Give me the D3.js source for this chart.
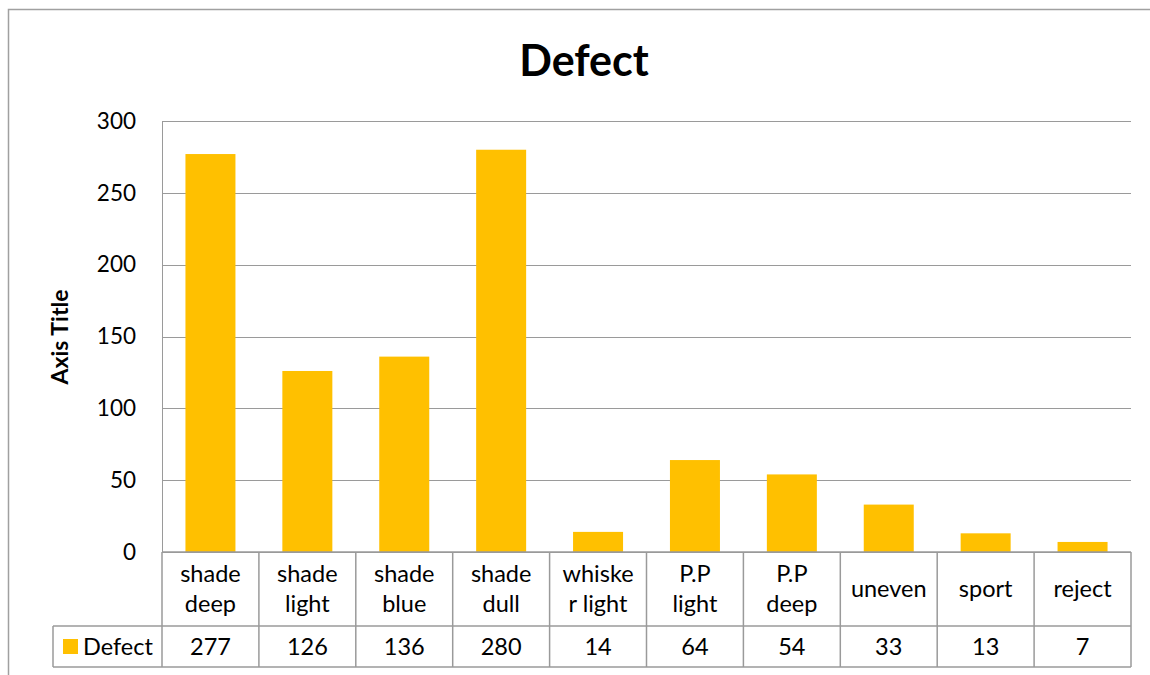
<!DOCTYPE html>
<html><head><meta charset="utf-8">
<script src="https://cdn.jsdelivr.net/npm/d3@7"></script>
<style>body{margin:0;background:#fff;font-family:Lato,"Open Sans",sans-serif;}</style>
</head><body>
<svg id="c" width="1150" height="675"></svg>
<script>
const title = "Defect";
const seriesName = "Defect";
const yAxisTitle = "Axis Title";
const categories = ["shade deep","shade light","shade blue","shade dull","whisker light","P.P light","P.P deep","uneven","sport","reject"];
const categoryLines = [["shade","deep"],["shade","light"],["shade","blue"],["shade","dull"],["whiske","r light"],["P.P","light"],["P.P","deep"],["uneven"],["sport"],["reject"]];
const values = [277,126,136,280,14,64,54,33,13,7];
const yTicks = [0,50,100,150,200,250,300];

const svg = d3.select("#c");
const L = 162, R = 1131, T = 121, B = 552;
const gridColor = "#9a9a9a", barColor = "#FFC000";
const fnt = "Lato,'Open Sans',sans-serif";

// outer border
svg.append("rect").attr("x",8.5).attr("y",9.5).attr("width",1160).attr("height",700)
  .attr("fill","none").attr("stroke","#a0a0a0").attr("stroke-width",1.5);

const x = d3.scaleBand().domain(categories).range([L,R]).paddingInner(0).paddingOuter(0);
const y = d3.scaleLinear().domain([0,300]).range([B,T]);

// gridlines
svg.append("g").selectAll("line").data(yTicks).join("line")
  .attr("x1",L).attr("x2",R).attr("y1",d=>Math.round(y(d))+0.5).attr("y2",d=>Math.round(y(d))+0.5)
  .attr("stroke",gridColor).attr("stroke-width",1);
svg.append("line").attr("x1",L+0.5).attr("x2",L+0.5).attr("y1",T).attr("y2",B).attr("stroke",gridColor);

// y axis labels
const yAxis = d3.axisLeft(y).tickValues(yTicks).tickSize(0).tickPadding(26);
const ga = svg.append("g").attr("transform",`translate(${L},0)`).call(yAxis);
ga.select(".domain").remove();
ga.selectAll("text").attr("font-family",fnt).attr("font-size",22.5).attr("fill","#000");

// bars
const bw = 50;
svg.append("g").selectAll("rect").data(values).join("rect")
  .attr("x",(d,i)=>x(categories[i])+x.bandwidth()/2-bw/2)
  .attr("width",bw)
  .attr("y",d=>y(d)).attr("height",d=>B-y(d))
  .attr("fill",barColor);

// data table
const rowTop = B, rowMid = 626, rowBot = 667, legL = 53;
const tb = svg.append("g").attr("stroke",gridColor).attr("stroke-width",1.5).attr("fill","none");
tb.append("line").attr("x1",L).attr("x2",R).attr("y1",rowTop).attr("y2",rowTop);
tb.append("line").attr("x1",legL).attr("x2",R).attr("y1",rowMid).attr("y2",rowMid);
tb.append("line").attr("x1",legL).attr("x2",R).attr("y1",rowBot).attr("y2",rowBot);
tb.append("line").attr("x1",legL).attr("x2",legL).attr("y1",rowMid).attr("y2",rowBot);
const bounds = categories.map(c=>x(c)).concat([R]);
tb.selectAll(".v").data(bounds).join("line").attr("class","v")
  .attr("x1",d=>d).attr("x2",d=>d).attr("y1",rowTop).attr("y2",rowBot);

const fs = 23.5;
categoryLines.forEach((lines,i)=>{
  const cx = x(categories[i])+x.bandwidth()/2;
  const t = svg.append("text").attr("x",cx).attr("text-anchor","middle")
    .attr("font-family",fnt).attr("font-size",fs).attr("fill","#000");
  if(lines.length===1){
    t.append("tspan").attr("x",cx).attr("y",597).text(lines[0]);
  } else {
    t.append("tspan").attr("x",cx).attr("y",582).text(lines[0]);
    t.append("tspan").attr("x",cx).attr("y",612).text(lines[1]);
  }
});
values.forEach((v,i)=>{
  svg.append("text").attr("x",x(categories[i])+x.bandwidth()/2).attr("y",655)
    .attr("text-anchor","middle").attr("font-family",fnt).attr("font-size",fs).attr("fill","#000").text(v);
});
// legend key
svg.append("rect").attr("x",63).attr("y",639).attr("width",15).attr("height",15).attr("fill",barColor);
svg.append("text").attr("x",83).attr("y",655).attr("font-family",fnt).attr("font-size",fs).attr("fill","#000").text(seriesName);

// title
svg.append("text").attr("x",584).attr("y",76).attr("text-anchor","middle")
  .attr("font-family",fnt).attr("font-weight","bold").attr("font-size",43).attr("fill","#000").text(title);
// y axis title
svg.append("text").attr("transform","translate(68,337) rotate(-90)").attr("text-anchor","middle")
  .attr("font-family",fnt).attr("font-weight","bold").attr("font-size",23).attr("fill","#000").text(yAxisTitle);
</script>
</body></html>
